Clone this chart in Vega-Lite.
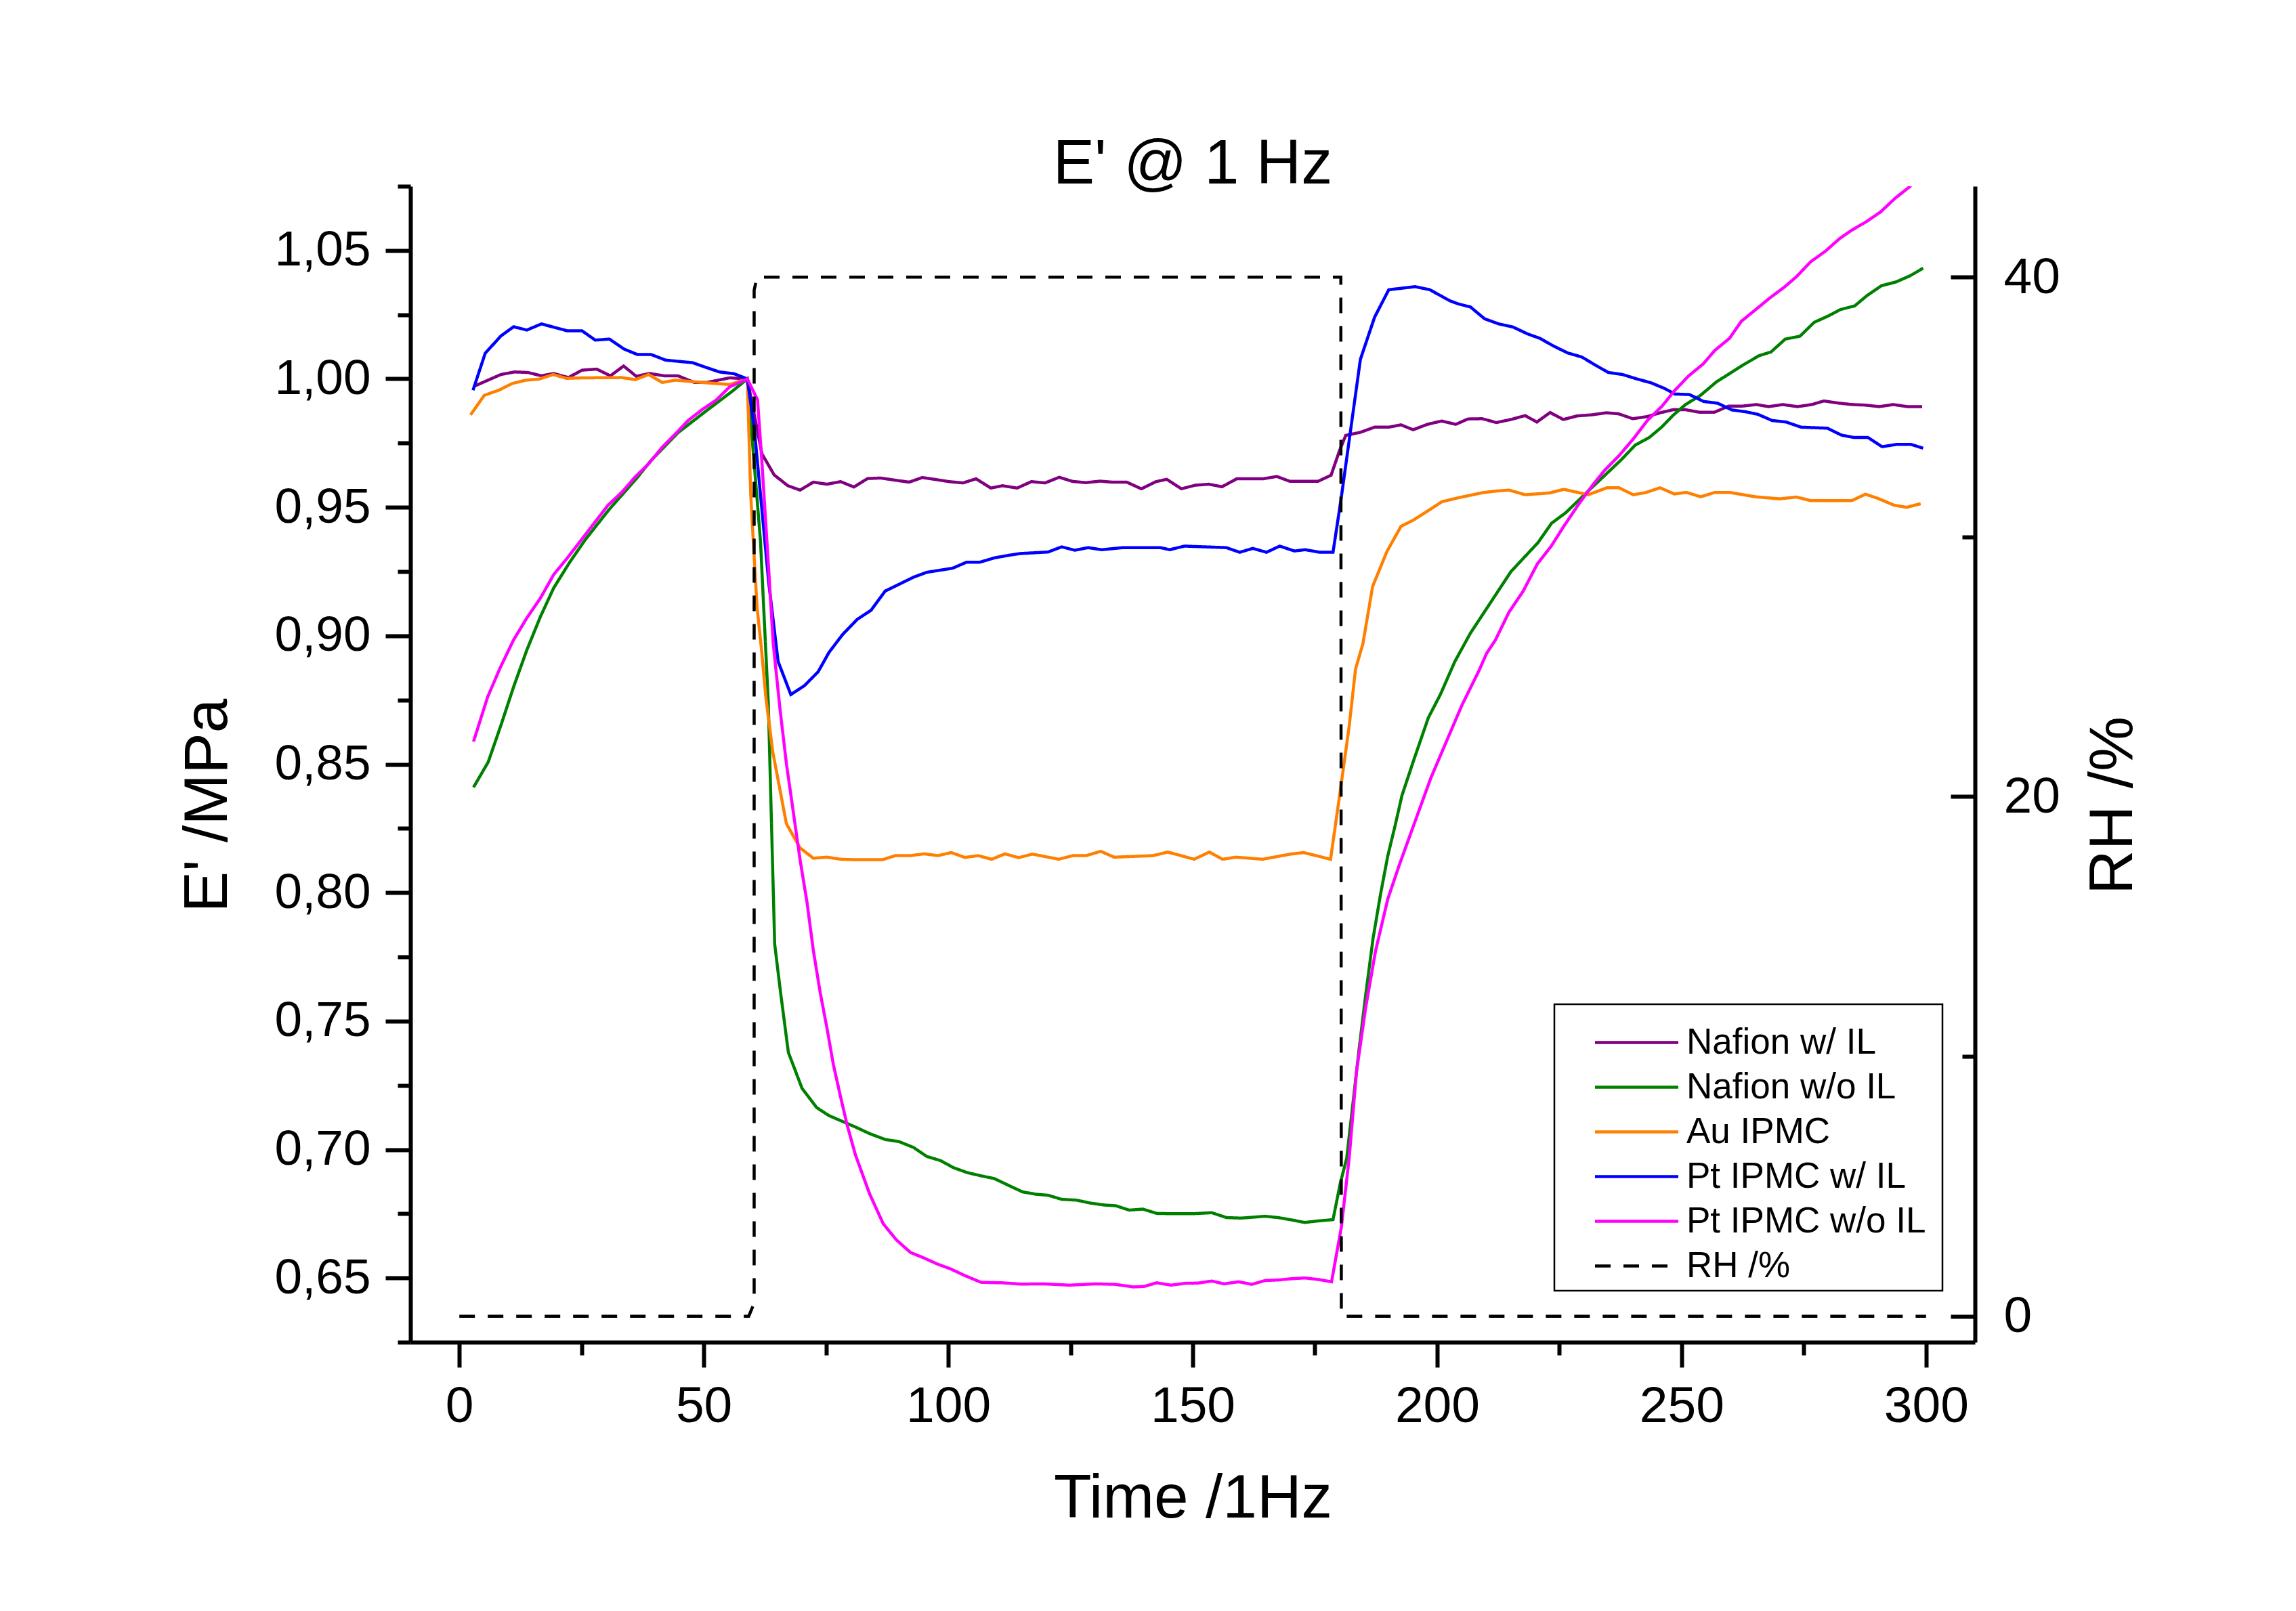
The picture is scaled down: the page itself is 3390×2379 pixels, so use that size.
{
  "$schema": "https://vega.github.io/schema/vega-lite/v6.json",
  "width": 2310,
  "height": 1707,
  "autosize": {"type": "none"},
  "padding": {"left": 606, "top": 275, "right": 474, "bottom": 397},
  "background": "white",
  "config": {
    "view": {"stroke": null},
    "font": "Liberation Sans",
    "axis": {
      "grid": false,
      "domainColor": "black",
      "domainWidth": 6,
      "tickColor": "black",
      "tickWidth": 6,
      "labelColor": "black",
      "titleColor": "black",
      "labelFont": "Liberation Sans",
      "titleFont": "Liberation Sans",
      "labelFontSize": 75,
      "titleFontSize": 91,
      "titleFontWeight": "normal"
    }
  },
  "title": {
    "text": "E' @ 1 Hz",
    "font": "Liberation Sans",
    "fontSize": 92,
    "fontWeight": "normal",
    "color": "black",
    "offset": -91,
    "baseline": "alphabetic"
  },
  "datasets": {
    "rh": [
      {"s": "RH /%", "i": 0, "t": 0, "RH": 0},
      {"s": "RH /%", "i": 1, "t": 59.2, "RH": 0},
      {"s": "RH /%", "i": 2, "t": 60.3, "RH": 0.5},
      {"s": "RH /%", "i": 3, "t": 60.3, "RH": 39.5},
      {"s": "RH /%", "i": 4, "t": 60.9, "RH": 40},
      {"s": "RH /%", "i": 5, "t": 180.3, "RH": 40},
      {"s": "RH /%", "i": 6, "t": 180.4, "RH": 0},
      {"s": "RH /%", "i": 7, "t": 300, "RH": 0}
    ],
    "emod": [
      {"s":"Nafion w/ IL","t":3.0,"E":0.9971},{"s":"Nafion w/ IL","t":8.5,"E":1.0017},{"s":"Nafion w/ IL","t":11.3,"E":1.0027},{"s":"Nafion w/ IL","t":14.0,"E":1.0025},{"s":"Nafion w/ IL","t":16.8,"E":1.0012},{"s":"Nafion w/ IL","t":19.3,"E":1.0021},{"s":"Nafion w/ IL","t":22.3,"E":1.0005},{"s":"Nafion w/ IL","t":25.1,"E":1.0034},{"s":"Nafion w/ IL","t":28.1,"E":1.0038},{"s":"Nafion w/ IL","t":30.9,"E":1.0012},{"s":"Nafion w/ IL","t":33.6,"E":1.005},{"s":"Nafion w/ IL","t":36.2,"E":1.001},{"s":"Nafion w/ IL","t":38.9,"E":1.0021},{"s":"Nafion w/ IL","t":41.9,"E":1.0012},{"s":"Nafion w/ IL","t":44.7,"E":1.0012},{"s":"Nafion w/ IL","t":48.1,"E":0.9986},{"s":"Nafion w/ IL","t":50.6,"E":0.9986},{"s":"Nafion w/ IL","t":55.3,"E":1.0004},{"s":"Nafion w/ IL","t":58.9,"E":1.0},{"s":"Nafion w/ IL","t":61.9,"E":0.9708},{"s":"Nafion w/ IL","t":64.4,"E":0.9626},{"s":"Nafion w/ IL","t":67.2,"E":0.9584},{"s":"Nafion w/ IL","t":69.7,"E":0.9567},{"s":"Nafion w/ IL","t":72.4,"E":0.9598},{"s":"Nafion w/ IL","t":75.2,"E":0.959},{"s":"Nafion w/ IL","t":78.0,"E":0.96},{"s":"Nafion w/ IL","t":80.7,"E":0.9579},{"s":"Nafion w/ IL","t":83.5,"E":0.9612},{"s":"Nafion w/ IL","t":86.2,"E":0.9614},{"s":"Nafion w/ IL","t":89.0,"E":0.9606},{"s":"Nafion w/ IL","t":92.0,"E":0.9598},{"s":"Nafion w/ IL","t":94.7,"E":0.9616},{"s":"Nafion w/ IL","t":97.5,"E":0.9608},{"s":"Nafion w/ IL","t":100.2,"E":0.96},{"s":"Nafion w/ IL","t":103.0,"E":0.9595},{"s":"Nafion w/ IL","t":105.7,"E":0.9611},{"s":"Nafion w/ IL","t":108.7,"E":0.9575},{"s":"Nafion w/ IL","t":111.1,"E":0.9584},{"s":"Nafion w/ IL","t":114.1,"E":0.9575},{"s":"Nafion w/ IL","t":117.0,"E":0.96},{"s":"Nafion w/ IL","t":119.8,"E":0.9595},{"s":"Nafion w/ IL","t":122.7,"E":0.9617},{"s":"Nafion w/ IL","t":125.4,"E":0.9601},{"s":"Nafion w/ IL","t":128.1,"E":0.9596},{"s":"Nafion w/ IL","t":131.1,"E":0.9602},{"s":"Nafion w/ IL","t":133.5,"E":0.9598},{"s":"Nafion w/ IL","t":136.5,"E":0.9598},{"s":"Nafion w/ IL","t":139.5,"E":0.9572},{"s":"Nafion w/ IL","t":142.5,"E":0.96},{"s":"Nafion w/ IL","t":144.7,"E":0.9609},{"s":"Nafion w/ IL","t":147.7,"E":0.9572},{"s":"Nafion w/ IL","t":150.5,"E":0.9586},{"s":"Nafion w/ IL","t":153.3,"E":0.959},{"s":"Nafion w/ IL","t":156.0,"E":0.958},{"s":"Nafion w/ IL","t":159.0,"E":0.9611},{"s":"Nafion w/ IL","t":164.4,"E":0.9611},{"s":"Nafion w/ IL","t":167.2,"E":0.962},{"s":"Nafion w/ IL","t":169.9,"E":0.9601},{"s":"Nafion w/ IL","t":175.6,"E":0.9601},{"s":"Nafion w/ IL","t":178.3,"E":0.9625},{"s":"Nafion w/ IL","t":180.0,"E":0.9719},{"s":"Nafion w/ IL","t":181.3,"E":0.978},{"s":"Nafion w/ IL","t":184.3,"E":0.9792},{"s":"Nafion w/ IL","t":187.2,"E":0.9812},{"s":"Nafion w/ IL","t":190.1,"E":0.9812},{"s":"Nafion w/ IL","t":192.6,"E":0.9821},{"s":"Nafion w/ IL","t":195.1,"E":0.9802},{"s":"Nafion w/ IL","t":198.0,"E":0.9823},{"s":"Nafion w/ IL","t":200.9,"E":0.9836},{"s":"Nafion w/ IL","t":203.8,"E":0.9823},{"s":"Nafion w/ IL","t":206.3,"E":0.9844},{"s":"Nafion w/ IL","t":209.2,"E":0.9845},{"s":"Nafion w/ IL","t":212.1,"E":0.983},{"s":"Nafion w/ IL","t":215.1,"E":0.9842},{"s":"Nafion w/ IL","t":218.0,"E":0.9857},{"s":"Nafion w/ IL","t":220.4,"E":0.9832},{"s":"Nafion w/ IL","t":223.1,"E":0.9869},{"s":"Nafion w/ IL","t":225.8,"E":0.9842},{"s":"Nafion w/ IL","t":228.7,"E":0.9856},{"s":"Nafion w/ IL","t":231.6,"E":0.986},{"s":"Nafion w/ IL","t":234.6,"E":0.9868},{"s":"Nafion w/ IL","t":237.1,"E":0.9864},{"s":"Nafion w/ IL","t":240.0,"E":0.9845},{"s":"Nafion w/ IL","t":242.9,"E":0.9853},{"s":"Nafion w/ IL","t":245.8,"E":0.9869},{"s":"Nafion w/ IL","t":248.3,"E":0.988},{"s":"Nafion w/ IL","t":250.8,"E":0.988},{"s":"Nafion w/ IL","t":253.7,"E":0.987},{"s":"Nafion w/ IL","t":256.7,"E":0.987},{"s":"Nafion w/ IL","t":259.6,"E":0.9894},{"s":"Nafion w/ IL","t":262.4,"E":0.9894},{"s":"Nafion w/ IL","t":265.3,"E":0.99},{"s":"Nafion w/ IL","t":267.8,"E":0.9892},{"s":"Nafion w/ IL","t":270.7,"E":0.99},{"s":"Nafion w/ IL","t":273.7,"E":0.9892},{"s":"Nafion w/ IL","t":276.6,"E":0.99},{"s":"Nafion w/ IL","t":279.1,"E":0.9914},{"s":"Nafion w/ IL","t":282.0,"E":0.9906},{"s":"Nafion w/ IL","t":284.9,"E":0.99},{"s":"Nafion w/ IL","t":287.5,"E":0.9898},{"s":"Nafion w/ IL","t":290.4,"E":0.9892},{"s":"Nafion w/ IL","t":293.3,"E":0.99},{"s":"Nafion w/ IL","t":296.2,"E":0.9892},{"s":"Nafion w/ IL","t":299.2,"E":0.9892},
      {"s":"Nafion w/o IL","t":2.9,"E":0.841},{"s":"Nafion w/o IL","t":5.9,"E":0.8508},{"s":"Nafion w/o IL","t":8.5,"E":0.8651},{"s":"Nafion w/o IL","t":11.1,"E":0.8801},{"s":"Nafion w/o IL","t":13.8,"E":0.8944},{"s":"Nafion w/o IL","t":16.6,"E":0.9075},{"s":"Nafion w/o IL","t":19.3,"E":0.9186},{"s":"Nafion w/o IL","t":22.5,"E":0.9284},{"s":"Nafion w/o IL","t":25.8,"E":0.9375},{"s":"Nafion w/o IL","t":30.7,"E":0.9493},{"s":"Nafion w/o IL","t":36.4,"E":0.9616},{"s":"Nafion w/o IL","t":39.2,"E":0.9682},{"s":"Nafion w/o IL","t":44.7,"E":0.979},{"s":"Nafion w/o IL","t":50.2,"E":0.9871},{"s":"Nafion w/o IL","t":55.9,"E":0.9953},{"s":"Nafion w/o IL","t":58.9,"E":1.0},{"s":"Nafion w/o IL","t":61.6,"E":0.9368},{"s":"Nafion w/o IL","t":63.2,"E":0.8736},{"s":"Nafion w/o IL","t":64.5,"E":0.78},{"s":"Nafion w/o IL","t":65.7,"E":0.7612},{"s":"Nafion w/o IL","t":67.3,"E":0.7378},{"s":"Nafion w/o IL","t":70.1,"E":0.7238},{"s":"Nafion w/o IL","t":73.1,"E":0.7163},{"s":"Nafion w/o IL","t":75.6,"E":0.7132},{"s":"Nafion w/o IL","t":78.4,"E":0.7109},{"s":"Nafion w/o IL","t":81.2,"E":0.7086},{"s":"Nafion w/o IL","t":83.9,"E":0.7062},{"s":"Nafion w/o IL","t":87.1,"E":0.7039},{"s":"Nafion w/o IL","t":89.9,"E":0.7031},{"s":"Nafion w/o IL","t":92.9,"E":0.7008},{"s":"Nafion w/o IL","t":95.6,"E":0.6973},{"s":"Nafion w/o IL","t":98.4,"E":0.6957},{"s":"Nafion w/o IL","t":101.1,"E":0.6929},{"s":"Nafion w/o IL","t":103.9,"E":0.691},{"s":"Nafion w/o IL","t":106.6,"E":0.6898},{"s":"Nafion w/o IL","t":109.4,"E":0.6887},{"s":"Nafion w/o IL","t":112.6,"E":0.6858},{"s":"Nafion w/o IL","t":115.2,"E":0.6835},{"s":"Nafion w/o IL","t":117.9,"E":0.6826},{"s":"Nafion w/o IL","t":120.4,"E":0.6822},{"s":"Nafion w/o IL","t":123.2,"E":0.6806},{"s":"Nafion w/o IL","t":126.2,"E":0.6803},{"s":"Nafion w/o IL","t":129.2,"E":0.6791},{"s":"Nafion w/o IL","t":131.9,"E":0.6784},{"s":"Nafion w/o IL","t":134.3,"E":0.6781},{"s":"Nafion w/o IL","t":137.0,"E":0.6764},{"s":"Nafion w/o IL","t":139.8,"E":0.6768},{"s":"Nafion w/o IL","t":142.7,"E":0.6751},{"s":"Nafion w/o IL","t":146.5,"E":0.675},{"s":"Nafion w/o IL","t":150.0,"E":0.675},{"s":"Nafion w/o IL","t":153.9,"E":0.6754},{"s":"Nafion w/o IL","t":156.9,"E":0.6735},{"s":"Nafion w/o IL","t":159.9,"E":0.6733},{"s":"Nafion w/o IL","t":164.8,"E":0.674},{"s":"Nafion w/o IL","t":167.5,"E":0.6735},{"s":"Nafion w/o IL","t":170.2,"E":0.6726},{"s":"Nafion w/o IL","t":172.9,"E":0.6716},{"s":"Nafion w/o IL","t":175.7,"E":0.6722},{"s":"Nafion w/o IL","t":178.7,"E":0.6727},{"s":"Nafion w/o IL","t":180.2,"E":0.687},{"s":"Nafion w/o IL","t":181.5,"E":0.6966},{"s":"Nafion w/o IL","t":182.5,"E":0.7134},{"s":"Nafion w/o IL","t":184.0,"E":0.7386},{"s":"Nafion w/o IL","t":185.4,"E":0.7605},{"s":"Nafion w/o IL","t":186.9,"E":0.7823},{"s":"Nafion w/o IL","t":188.4,"E":0.7992},{"s":"Nafion w/o IL","t":189.9,"E":0.8143},{"s":"Nafion w/o IL","t":191.4,"E":0.8261},{"s":"Nafion w/o IL","t":192.8,"E":0.8378},{"s":"Nafion w/o IL","t":195.3,"E":0.8521},{"s":"Nafion w/o IL","t":198.2,"E":0.8681},{"s":"Nafion w/o IL","t":200.7,"E":0.8773},{"s":"Nafion w/o IL","t":203.6,"E":0.8899},{"s":"Nafion w/o IL","t":206.8,"E":0.901},{"s":"Nafion w/o IL","t":215.1,"E":0.925},{"s":"Nafion w/o IL","t":220.6,"E":0.9362},{"s":"Nafion w/o IL","t":223.4,"E":0.9438},{"s":"Nafion w/o IL","t":226.3,"E":0.9479},{"s":"Nafion w/o IL","t":231.7,"E":0.9578},{"s":"Nafion w/o IL","t":237.6,"E":0.9684},{"s":"Nafion w/o IL","t":240.5,"E":0.9742},{"s":"Nafion w/o IL","t":243.4,"E":0.9772},{"s":"Nafion w/o IL","t":245.9,"E":0.9812},{"s":"Nafion w/o IL","t":248.3,"E":0.9859},{"s":"Nafion w/o IL","t":250.8,"E":0.99},{"s":"Nafion w/o IL","t":253.8,"E":0.9935},{"s":"Nafion w/o IL","t":257.1,"E":0.9988},{"s":"Nafion w/o IL","t":260.0,"E":1.0023},{"s":"Nafion w/o IL","t":262.4,"E":1.0052},{"s":"Nafion w/o IL","t":265.8,"E":1.009},{"s":"Nafion w/o IL","t":268.3,"E":1.0105},{"s":"Nafion w/o IL","t":271.2,"E":1.0155},{"s":"Nafion w/o IL","t":274.2,"E":1.0166},{"s":"Nafion w/o IL","t":277.1,"E":1.022},{"s":"Nafion w/o IL","t":280.0,"E":1.0245},{"s":"Nafion w/o IL","t":282.5,"E":1.027},{"s":"Nafion w/o IL","t":285.4,"E":1.0284},{"s":"Nafion w/o IL","t":287.9,"E":1.0324},{"s":"Nafion w/o IL","t":290.9,"E":1.0363},{"s":"Nafion w/o IL","t":293.8,"E":1.0377},{"s":"Nafion w/o IL","t":296.7,"E":1.0401},{"s":"Nafion w/o IL","t":299.4,"E":1.0431},
      {"s":"Au IPMC","t":2.3,"E":0.986},{"s":"Au IPMC","t":5.1,"E":0.9936},{"s":"Au IPMC","t":8.1,"E":0.9956},{"s":"Au IPMC","t":10.8,"E":0.9982},{"s":"Au IPMC","t":13.6,"E":0.9995},{"s":"Au IPMC","t":16.3,"E":0.9999},{"s":"Au IPMC","t":19.2,"E":1.0017},{"s":"Au IPMC","t":21.9,"E":1.0002},{"s":"Au IPMC","t":25.3,"E":1.0004},{"s":"Au IPMC","t":33.2,"E":1.0005},{"s":"Au IPMC","t":36.0,"E":0.9997},{"s":"Au IPMC","t":38.7,"E":1.0017},{"s":"Au IPMC","t":41.5,"E":0.9986},{"s":"Au IPMC","t":44.2,"E":0.9995},{"s":"Au IPMC","t":49.7,"E":0.9986},{"s":"Au IPMC","t":55.3,"E":0.9978},{"s":"Au IPMC","t":58.9,"E":1.0},{"s":"Au IPMC","t":59.6,"E":0.955},{"s":"Au IPMC","t":60.4,"E":0.9275},{"s":"Au IPMC","t":60.9,"E":0.911},{"s":"Au IPMC","t":61.8,"E":0.8947},{"s":"Au IPMC","t":62.7,"E":0.876},{"s":"Au IPMC","t":64.1,"E":0.8549},{"s":"Au IPMC","t":66.9,"E":0.8268},{"s":"Au IPMC","t":69.7,"E":0.8174},{"s":"Au IPMC","t":72.4,"E":0.8134},{"s":"Au IPMC","t":75.2,"E":0.8138},{"s":"Au IPMC","t":78.0,"E":0.813},{"s":"Au IPMC","t":81.2,"E":0.8128},{"s":"Au IPMC","t":86.5,"E":0.8128},{"s":"Au IPMC","t":89.2,"E":0.8144},{"s":"Au IPMC","t":92.2,"E":0.8144},{"s":"Au IPMC","t":95.1,"E":0.8151},{"s":"Au IPMC","t":97.9,"E":0.8144},{"s":"Au IPMC","t":100.6,"E":0.8156},{"s":"Au IPMC","t":103.4,"E":0.8137},{"s":"Au IPMC","t":106.1,"E":0.8144},{"s":"Au IPMC","t":108.9,"E":0.813},{"s":"Au IPMC","t":111.6,"E":0.8151},{"s":"Au IPMC","t":114.4,"E":0.8136},{"s":"Au IPMC","t":117.2,"E":0.815},{"s":"Au IPMC","t":122.6,"E":0.813},{"s":"Au IPMC","t":125.5,"E":0.8144},{"s":"Au IPMC","t":128.2,"E":0.8144},{"s":"Au IPMC","t":131.2,"E":0.8161},{"s":"Au IPMC","t":133.9,"E":0.8138},{"s":"Au IPMC","t":141.9,"E":0.8144},{"s":"Au IPMC","t":144.9,"E":0.8158},{"s":"Au IPMC","t":150.3,"E":0.813},{"s":"Au IPMC","t":153.4,"E":0.8158},{"s":"Au IPMC","t":156.1,"E":0.813},{"s":"Au IPMC","t":158.8,"E":0.8138},{"s":"Au IPMC","t":164.3,"E":0.813},{"s":"Au IPMC","t":170.0,"E":0.815},{"s":"Au IPMC","t":172.7,"E":0.8156},{"s":"Au IPMC","t":178.2,"E":0.813},{"s":"Au IPMC","t":180.0,"E":0.8372},{"s":"Au IPMC","t":182.0,"E":0.8647},{"s":"Au IPMC","t":183.3,"E":0.887},{"s":"Au IPMC","t":184.8,"E":0.8968},{"s":"Au IPMC","t":186.8,"E":0.9192},{"s":"Au IPMC","t":189.7,"E":0.9327},{"s":"Au IPMC","t":192.6,"E":0.9426},{"s":"Au IPMC","t":195.1,"E":0.945},{"s":"Au IPMC","t":198.0,"E":0.9485},{"s":"Au IPMC","t":201.0,"E":0.9522},{"s":"Au IPMC","t":204.3,"E":0.9537},{"s":"Au IPMC","t":209.3,"E":0.9557},{"s":"Au IPMC","t":211.8,"E":0.9563},{"s":"Au IPMC","t":214.7,"E":0.9567},{"s":"Au IPMC","t":218.0,"E":0.9549},{"s":"Au IPMC","t":223.0,"E":0.9556},{"s":"Au IPMC","t":225.9,"E":0.957},{"s":"Au IPMC","t":230.9,"E":0.9549},{"s":"Au IPMC","t":234.7,"E":0.9576},{"s":"Au IPMC","t":237.2,"E":0.9576},{"s":"Au IPMC","t":240.1,"E":0.9549},{"s":"Au IPMC","t":242.6,"E":0.9557},{"s":"Au IPMC","t":245.6,"E":0.9576},{"s":"Au IPMC","t":248.5,"E":0.9552},{"s":"Au IPMC","t":251.0,"E":0.9558},{"s":"Au IPMC","t":253.9,"E":0.9541},{"s":"Au IPMC","t":256.8,"E":0.9558},{"s":"Au IPMC","t":259.8,"E":0.9558},{"s":"Au IPMC","t":265.1,"E":0.9541},{"s":"Au IPMC","t":270.1,"E":0.9533},{"s":"Au IPMC","t":273.5,"E":0.954},{"s":"Au IPMC","t":276.4,"E":0.9526},{"s":"Au IPMC","t":284.8,"E":0.9526},{"s":"Au IPMC","t":287.6,"E":0.9551},{"s":"Au IPMC","t":290.1,"E":0.9535},{"s":"Au IPMC","t":293.5,"E":0.9508},{"s":"Au IPMC","t":296.0,"E":0.95},{"s":"Au IPMC","t":298.9,"E":0.9514},
      {"s":"Pt IPMC w/ IL","t":2.8,"E":0.9956},{"s":"Pt IPMC w/ IL","t":5.3,"E":1.01},{"s":"Pt IPMC w/ IL","t":8.5,"E":1.0167},{"s":"Pt IPMC w/ IL","t":11.1,"E":1.0203},{"s":"Pt IPMC w/ IL","t":13.8,"E":1.019},{"s":"Pt IPMC w/ IL","t":16.8,"E":1.0214},{"s":"Pt IPMC w/ IL","t":22.1,"E":1.0187},{"s":"Pt IPMC w/ IL","t":25.1,"E":1.0187},{"s":"Pt IPMC w/ IL","t":27.8,"E":1.0151},{"s":"Pt IPMC w/ IL","t":30.7,"E":1.0155},{"s":"Pt IPMC w/ IL","t":33.7,"E":1.0116},{"s":"Pt IPMC w/ IL","t":36.4,"E":1.0095},{"s":"Pt IPMC w/ IL","t":39.2,"E":1.0095},{"s":"Pt IPMC w/ IL","t":42.2,"E":1.0073},{"s":"Pt IPMC w/ IL","t":47.7,"E":1.0063},{"s":"Pt IPMC w/ IL","t":50.4,"E":1.0045},{"s":"Pt IPMC w/ IL","t":53.2,"E":1.0027},{"s":"Pt IPMC w/ IL","t":56.2,"E":1.002},{"s":"Pt IPMC w/ IL","t":58.9,"E":1.0},{"s":"Pt IPMC w/ IL","t":60.3,"E":0.9813},{"s":"Pt IPMC w/ IL","t":63.3,"E":0.9204},{"s":"Pt IPMC w/ IL","t":65.2,"E":0.89},{"s":"Pt IPMC w/ IL","t":67.8,"E":0.8771},{"s":"Pt IPMC w/ IL","t":70.6,"E":0.8806},{"s":"Pt IPMC w/ IL","t":73.4,"E":0.886},{"s":"Pt IPMC w/ IL","t":75.6,"E":0.8935},{"s":"Pt IPMC w/ IL","t":78.4,"E":0.9005},{"s":"Pt IPMC w/ IL","t":81.4,"E":0.9064},{"s":"Pt IPMC w/ IL","t":84.2,"E":0.9099},{"s":"Pt IPMC w/ IL","t":87.1,"E":0.9174},{"s":"Pt IPMC w/ IL","t":89.9,"E":0.92},{"s":"Pt IPMC w/ IL","t":92.9,"E":0.9228},{"s":"Pt IPMC w/ IL","t":95.6,"E":0.9247},{"s":"Pt IPMC w/ IL","t":100.9,"E":0.9263},{"s":"Pt IPMC w/ IL","t":103.7,"E":0.9286},{"s":"Pt IPMC w/ IL","t":106.4,"E":0.9286},{"s":"Pt IPMC w/ IL","t":109.4,"E":0.9303},{"s":"Pt IPMC w/ IL","t":112.6,"E":0.9314},{"s":"Pt IPMC w/ IL","t":114.7,"E":0.932},{"s":"Pt IPMC w/ IL","t":120.4,"E":0.9326},{"s":"Pt IPMC w/ IL","t":123.2,"E":0.9346},{"s":"Pt IPMC w/ IL","t":125.9,"E":0.9333},{"s":"Pt IPMC w/ IL","t":128.6,"E":0.9343},{"s":"Pt IPMC w/ IL","t":131.4,"E":0.9335},{"s":"Pt IPMC w/ IL","t":135.7,"E":0.9343},{"s":"Pt IPMC w/ IL","t":143.4,"E":0.9343},{"s":"Pt IPMC w/ IL","t":145.3,"E":0.9335},{"s":"Pt IPMC w/ IL","t":148.3,"E":0.9349},{"s":"Pt IPMC w/ IL","t":156.9,"E":0.9343},{"s":"Pt IPMC w/ IL","t":159.6,"E":0.9325},{"s":"Pt IPMC w/ IL","t":162.3,"E":0.934},{"s":"Pt IPMC w/ IL","t":165.1,"E":0.9325},{"s":"Pt IPMC w/ IL","t":167.8,"E":0.9349},{"s":"Pt IPMC w/ IL","t":170.8,"E":0.933},{"s":"Pt IPMC w/ IL","t":173.0,"E":0.9335},{"s":"Pt IPMC w/ IL","t":176.0,"E":0.9325},{"s":"Pt IPMC w/ IL","t":178.7,"E":0.9325},{"s":"Pt IPMC w/ IL","t":180.3,"E":0.9526},{"s":"Pt IPMC w/ IL","t":184.3,"E":1.0076},{"s":"Pt IPMC w/ IL","t":187.2,"E":1.024},{"s":"Pt IPMC w/ IL","t":190.1,"E":1.0347},{"s":"Pt IPMC w/ IL","t":195.5,"E":1.0359},{"s":"Pt IPMC w/ IL","t":198.5,"E":1.0347},{"s":"Pt IPMC w/ IL","t":202.6,"E":1.0304},{"s":"Pt IPMC w/ IL","t":204.3,"E":1.0292},{"s":"Pt IPMC w/ IL","t":206.8,"E":1.028},{"s":"Pt IPMC w/ IL","t":209.7,"E":1.0234},{"s":"Pt IPMC w/ IL","t":212.6,"E":1.0214},{"s":"Pt IPMC w/ IL","t":215.5,"E":1.0202},{"s":"Pt IPMC w/ IL","t":218.5,"E":1.0175},{"s":"Pt IPMC w/ IL","t":221.0,"E":1.0158},{"s":"Pt IPMC w/ IL","t":223.8,"E":1.0128},{"s":"Pt IPMC w/ IL","t":226.7,"E":1.0101},{"s":"Pt IPMC w/ IL","t":229.6,"E":1.0085},{"s":"Pt IPMC w/ IL","t":232.5,"E":1.0052},{"s":"Pt IPMC w/ IL","t":235.0,"E":1.0025},{"s":"Pt IPMC w/ IL","t":237.9,"E":1.0017},{"s":"Pt IPMC w/ IL","t":240.8,"E":1.0},{"s":"Pt IPMC w/ IL","t":243.7,"E":0.9985},{"s":"Pt IPMC w/ IL","t":246.6,"E":0.9962},{"s":"Pt IPMC w/ IL","t":248.6,"E":0.9941},{"s":"Pt IPMC w/ IL","t":251.6,"E":0.9939},{"s":"Pt IPMC w/ IL","t":254.5,"E":0.9912},{"s":"Pt IPMC w/ IL","t":257.4,"E":0.9905},{"s":"Pt IPMC w/ IL","t":260.3,"E":0.9879},{"s":"Pt IPMC w/ IL","t":263.1,"E":0.9872},{"s":"Pt IPMC w/ IL","t":265.6,"E":0.9862},{"s":"Pt IPMC w/ IL","t":268.5,"E":0.9838},{"s":"Pt IPMC w/ IL","t":271.4,"E":0.9832},{"s":"Pt IPMC w/ IL","t":274.4,"E":0.9812},{"s":"Pt IPMC w/ IL","t":279.8,"E":0.9808},{"s":"Pt IPMC w/ IL","t":282.7,"E":0.9781},{"s":"Pt IPMC w/ IL","t":285.2,"E":0.9772},{"s":"Pt IPMC w/ IL","t":288.1,"E":0.9772},{"s":"Pt IPMC w/ IL","t":291.0,"E":0.9736},{"s":"Pt IPMC w/ IL","t":294.0,"E":0.9745},{"s":"Pt IPMC w/ IL","t":296.9,"E":0.9745},{"s":"Pt IPMC w/ IL","t":299.4,"E":0.973},
      {"s":"Pt IPMC w/o IL","t":2.9,"E":0.8588},{"s":"Pt IPMC w/o IL","t":5.8,"E":0.8762},{"s":"Pt IPMC w/o IL","t":8.3,"E":0.8873},{"s":"Pt IPMC w/o IL","t":11.1,"E":0.8984},{"s":"Pt IPMC w/o IL","t":13.8,"E":0.9069},{"s":"Pt IPMC w/o IL","t":16.6,"E":0.9147},{"s":"Pt IPMC w/o IL","t":19.3,"E":0.9238},{"s":"Pt IPMC w/o IL","t":22.1,"E":0.9303},{"s":"Pt IPMC w/o IL","t":25.3,"E":0.9382},{"s":"Pt IPMC w/o IL","t":30.4,"E":0.9508},{"s":"Pt IPMC w/o IL","t":33.2,"E":0.9558},{"s":"Pt IPMC w/o IL","t":36.0,"E":0.9619},{"s":"Pt IPMC w/o IL","t":38.7,"E":0.9669},{"s":"Pt IPMC w/o IL","t":41.5,"E":0.9734},{"s":"Pt IPMC w/o IL","t":44.2,"E":0.9786},{"s":"Pt IPMC w/o IL","t":46.8,"E":0.9838},{"s":"Pt IPMC w/o IL","t":49.7,"E":0.9881},{"s":"Pt IPMC w/o IL","t":52.5,"E":0.9917},{"s":"Pt IPMC w/o IL","t":55.3,"E":0.9969},{"s":"Pt IPMC w/o IL","t":58.9,"E":1.0},{"s":"Pt IPMC w/o IL","t":61.0,"E":0.9918},{"s":"Pt IPMC w/o IL","t":61.9,"E":0.9673},{"s":"Pt IPMC w/o IL","t":63.3,"E":0.9251},{"s":"Pt IPMC w/o IL","t":64.2,"E":0.897},{"s":"Pt IPMC w/o IL","t":65.6,"E":0.8713},{"s":"Pt IPMC w/o IL","t":66.9,"E":0.8502},{"s":"Pt IPMC w/o IL","t":68.3,"E":0.8315},{"s":"Pt IPMC w/o IL","t":69.7,"E":0.8127},{"s":"Pt IPMC w/o IL","t":71.1,"E":0.7964},{"s":"Pt IPMC w/o IL","t":72.4,"E":0.7776},{"s":"Pt IPMC w/o IL","t":73.8,"E":0.7612},{"s":"Pt IPMC w/o IL","t":75.2,"E":0.7472},{"s":"Pt IPMC w/o IL","t":76.5,"E":0.7331},{"s":"Pt IPMC w/o IL","t":78.0,"E":0.7203},{"s":"Pt IPMC w/o IL","t":79.3,"E":0.7097},{"s":"Pt IPMC w/o IL","t":81.0,"E":0.698},{"s":"Pt IPMC w/o IL","t":83.9,"E":0.6828},{"s":"Pt IPMC w/o IL","t":86.7,"E":0.6711},{"s":"Pt IPMC w/o IL","t":89.4,"E":0.6648},{"s":"Pt IPMC w/o IL","t":92.3,"E":0.6599},{"s":"Pt IPMC w/o IL","t":95.0,"E":0.6578},{"s":"Pt IPMC w/o IL","t":97.8,"E":0.6554},{"s":"Pt IPMC w/o IL","t":100.5,"E":0.6535},{"s":"Pt IPMC w/o IL","t":103.3,"E":0.651},{"s":"Pt IPMC w/o IL","t":106.7,"E":0.6483},{"s":"Pt IPMC w/o IL","t":111.1,"E":0.6481},{"s":"Pt IPMC w/o IL","t":114.9,"E":0.6476},{"s":"Pt IPMC w/o IL","t":119.3,"E":0.6477},{"s":"Pt IPMC w/o IL","t":124.8,"E":0.6472},{"s":"Pt IPMC w/o IL","t":130.3,"E":0.6477},{"s":"Pt IPMC w/o IL","t":134.1,"E":0.6475},{"s":"Pt IPMC w/o IL","t":137.9,"E":0.6465},{"s":"Pt IPMC w/o IL","t":140.1,"E":0.6467},{"s":"Pt IPMC w/o IL","t":142.6,"E":0.6481},{"s":"Pt IPMC w/o IL","t":145.6,"E":0.6472},{"s":"Pt IPMC w/o IL","t":148.4,"E":0.6479},{"s":"Pt IPMC w/o IL","t":151.1,"E":0.648},{"s":"Pt IPMC w/o IL","t":153.9,"E":0.6488},{"s":"Pt IPMC w/o IL","t":156.4,"E":0.6477},{"s":"Pt IPMC w/o IL","t":159.4,"E":0.6485},{"s":"Pt IPMC w/o IL","t":162.1,"E":0.6475},{"s":"Pt IPMC w/o IL","t":164.8,"E":0.649},{"s":"Pt IPMC w/o IL","t":167.5,"E":0.6492},{"s":"Pt IPMC w/o IL","t":170.2,"E":0.6497},{"s":"Pt IPMC w/o IL","t":172.9,"E":0.65},{"s":"Pt IPMC w/o IL","t":175.7,"E":0.6494},{"s":"Pt IPMC w/o IL","t":178.4,"E":0.6485},{"s":"Pt IPMC w/o IL","t":180.4,"E":0.6697},{"s":"Pt IPMC w/o IL","t":182.0,"E":0.6966},{"s":"Pt IPMC w/o IL","t":183.5,"E":0.7302},{"s":"Pt IPMC w/o IL","t":185.4,"E":0.7555},{"s":"Pt IPMC w/o IL","t":187.4,"E":0.7773},{"s":"Pt IPMC w/o IL","t":189.9,"E":0.7975},{"s":"Pt IPMC w/o IL","t":192.3,"E":0.811},{"s":"Pt IPMC w/o IL","t":195.8,"E":0.8294},{"s":"Pt IPMC w/o IL","t":198.7,"E":0.8446},{"s":"Pt IPMC w/o IL","t":201.7,"E":0.858},{"s":"Pt IPMC w/o IL","t":205.1,"E":0.8731},{"s":"Pt IPMC w/o IL","t":208.6,"E":0.8866},{"s":"Pt IPMC w/o IL","t":210.1,"E":0.8931},{"s":"Pt IPMC w/o IL","t":211.9,"E":0.8983},{"s":"Pt IPMC w/o IL","t":214.7,"E":0.9092},{"s":"Pt IPMC w/o IL","t":217.6,"E":0.9174},{"s":"Pt IPMC w/o IL","t":220.5,"E":0.928},{"s":"Pt IPMC w/o IL","t":223.3,"E":0.9348},{"s":"Pt IPMC w/o IL","t":225.9,"E":0.9426},{"s":"Pt IPMC w/o IL","t":228.8,"E":0.9508},{"s":"Pt IPMC w/o IL","t":231.7,"E":0.9584},{"s":"Pt IPMC w/o IL","t":234.2,"E":0.9643},{"s":"Pt IPMC w/o IL","t":237.2,"E":0.9701},{"s":"Pt IPMC w/o IL","t":240.1,"E":0.9766},{"s":"Pt IPMC w/o IL","t":243.0,"E":0.9838},{"s":"Pt IPMC w/o IL","t":246.0,"E":0.9894},{"s":"Pt IPMC w/o IL","t":248.5,"E":0.9953},{"s":"Pt IPMC w/o IL","t":251.4,"E":1.0011},{"s":"Pt IPMC w/o IL","t":254.4,"E":1.0058},{"s":"Pt IPMC w/o IL","t":256.8,"E":1.0111},{"s":"Pt IPMC w/o IL","t":259.8,"E":1.0158},{"s":"Pt IPMC w/o IL","t":262.2,"E":1.0224},{"s":"Pt IPMC w/o IL","t":265.1,"E":1.0269},{"s":"Pt IPMC w/o IL","t":268.1,"E":1.0316},{"s":"Pt IPMC w/o IL","t":271.0,"E":1.0357},{"s":"Pt IPMC w/o IL","t":273.5,"E":1.0398},{"s":"Pt IPMC w/o IL","t":276.4,"E":1.0456},{"s":"Pt IPMC w/o IL","t":279.4,"E":1.0497},{"s":"Pt IPMC w/o IL","t":282.3,"E":1.0546},{"s":"Pt IPMC w/o IL","t":284.8,"E":1.0579},{"s":"Pt IPMC w/o IL","t":287.7,"E":1.0611},{"s":"Pt IPMC w/o IL","t":290.7,"E":1.065},{"s":"Pt IPMC w/o IL","t":293.6,"E":1.0702},{"s":"Pt IPMC w/o IL","t":296.9,"E":1.0752}
    ]
  },
  "layer": [
    {
      "data": {"name": "emod"},
      "mark": {"type": "line", "strokeWidth": 4.5, "clip": true},
      "encoding": {
        "x": {
          "field": "t",
          "type": "quantitative",
          "scale": {"domain": [-10, 310], "nice": false, "zero": false},
          "axis": {
            "values": [0, 25, 50, 75, 100, 125, 150, 175, 200, 225, 250, 275, 300],
            "labelExpr": "datum.value % 50 == 0 ? datum.label : ''",
            "tickSize": {"condition": {"test": "datum.value % 50 == 0", "value": 37}, "value": 19},
            "labelPadding": 21,
            "labelFontSize": 75,
            "title": "Time /1Hz",
            "titleX": 1155,
            "titleY": 231,
            "titleBaseline": "middle",
            "titleAlign": "center"
          }
        },
        "y": {
          "field": "E",
          "type": "quantitative",
          "scale": {"domain": [0.625, 1.075], "nice": false, "zero": false},
          "axis": {
            "values": [0.625, 0.65, 0.675, 0.7, 0.725, 0.75, 0.775, 0.8, 0.825, 0.85, 0.875, 0.9, 0.925, 0.95, 0.975, 1.0, 1.025, 1.05, 1.075],
            "labelExpr": "round(datum.value * 1000) % 50 == 0 ? replace(format(datum.value, '.2f'), '.', ',') : ''",
            "tickSize": {"condition": {"test": "round(datum.value * 1000) % 50 == 0", "value": 37}, "value": 19},
            "labelPadding": 22,
            "labelFontSize": 73,
            "title": "E' /MPa",
            "titleX": -299,
            "titleY": 914,
            "titleAngle": 270,
            "titleAlign": "center",
            "titleBaseline": "middle"
          }
        },
        "color": {
          "field": "s",
          "type": "nominal",
          "scale": {
            "domain": ["Nafion w/ IL", "Nafion w/o IL", "Au IPMC", "Pt IPMC w/ IL", "Pt IPMC w/o IL", "RH /%"],
            "range": ["#800080", "#008000", "#ff8000", "#0000ff", "#ff00ff", "#000000"]
          },
          "legend": {
            "title": " ",
            "titleFontSize": 1,
            "titlePadding": 20,
            "orient": "none",
            "legendX": 1689,
            "legendY": 1208,
            "strokeColor": "black",
            "fillColor": "white",
            "padding": 9,
            "symbolType": "M-3,0H3",
            "symbolSize": 1681,
            "symbolStrokeWidth": 4.5,
            "labelFont": "Liberation Sans",
            "labelFontSize": 53,
            "labelColor": "black",
            "labelOffset": 47,
            "labelExpr": "datum.label + '\u2009\u200a\u200b'",
            "symbolOffset": 86,
            "rowPadding": 12,
            "labelLimit": 0,
            "encode": {
              "legend": {"update": {"strokeWidth": {"value": 2.5}}}
            }
          }
        },
        "strokeDash": {
          "field": "s",
          "type": "nominal",
          "scale": {
            "domain": ["Nafion w/ IL", "Nafion w/o IL", "Au IPMC", "Pt IPMC w/ IL", "Pt IPMC w/o IL", "RH /%"],
            "range": [[1, 0], [1, 0], [1, 0], [1, 0], [1, 0], [23, 19]]
          }
        }
      }
    },
    {
      "data": {"name": "rh"},
      "mark": {"type": "line", "strokeWidth": 4.5},
      "encoding": {
        "x": {"field": "t", "type": "quantitative"},
        "y": {
          "field": "RH",
          "type": "quantitative",
          "scale": {"domain": [-1, 43.5], "nice": false, "zero": false},
          "axis": {
            "orient": "right",
            "values": [0, 10, 20, 30, 40],
            "labelExpr": "datum.value % 20 == 0 ? datum.label : ''",
            "tickSize": {"condition": {"test": "datum.value % 20 == 0", "value": -36}, "value": -19},
            "labelPadding": 78,
            "labelFontSize": 75,
            "title": "RH /%",
            "titleX": 204,
            "titleY": 914,
            "titleAngle": 270,
            "titleAlign": "center",
            "titleBaseline": "middle"
          }
        },
        "order": {"field": "i", "type": "quantitative"},
        "color": {"field": "s", "type": "nominal"},
        "strokeDash": {"field": "s", "type": "nominal"}
      }
    }
  ],
  "resolve": {"scale": {"y": "independent"}}
}
